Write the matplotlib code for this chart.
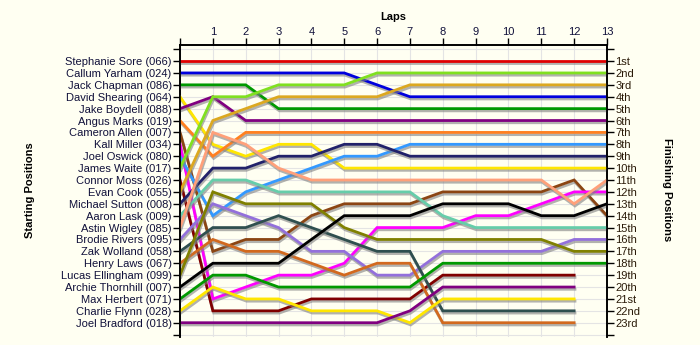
import matplotlib
matplotlib.use('Agg')
import matplotlib.pyplot as plt
import matplotlib.patheffects as pe

plt.rcParams['font.family'] = ['Liberation Sans', 'DejaVu Sans']

laps = list(range(14))

drivers = ['Stephanie Sore (066)', 'Callum Yarham (024)', 'Jack Chapman (086)',
           'David Shearing (064)', 'Jake Boydell (088)', 'Angus Marks (019)',
           'Cameron Allen (007)', 'Kall Miller (034)', 'Joel Oswick (080)',
           'James Waite (017)', 'Connor Moss (026)', 'Evan Cook (055)',
           'Michael Sutton (008)', 'Aaron Lask (009)', 'Astin Wigley (085)',
           'Brodie Rivers (095)', 'Zak Wolland (058)', 'Henry Laws (067)',
           'Lucas Ellingham (099)', 'Archie Thornhill (007)', 'Max Herbert (071)',
           'Charlie Flynn (028)', 'Joel Bradford (018)']

finish_labels = ['1st', '2nd', '3rd', '4th', '5th', '6th', '7th', '8th', '9th', '10th',
                 '11th', '12th', '13th', '14th', '15th', '16th', '17th', '18th', '19th',
                 '20th', '21st', '22nd', '23rd']

# position after each lap (lap 0 = grid), one list per line, same order as colours
positions = [
    [1, 1, 1, 1, 1, 1, 1, 1, 1, 1, 1, 1, 1, 1],
    [2, 2, 2, 2, 2, 2, 3, 4, 4, 4, 4, 4, 4, 4],
    [3, 3, 3, 5, 5, 5, 5, 5, 5, 5, 5, 5, 5, 5],
    [4, 8, 9, 8, 8, 10, 10, 10, 10, 10, 10, 10, 10, 10],
    [5, 4, 6, 6, 6, 6, 6, 6, 6, 6, 6, 6, 6, 6],
    [6, 9, 7, 7, 7, 7, 7, 7, 7, 7, 7, 7, 7, 7],
    [7, 17, 16, 16, 14, 13, 13, 13, 12, 12, 12, 12, 11, 14],
    [8, 21, 20, 19, 19, 18, 15, 15, 15, 14, 14, 13, 12, 12],
    [9, 14, 12, 11, 10, 9, 9, 8, 8, 8, 8, 8, 8, 8],
    [10, 4, 4, 3, 3, 3, 2, 2, 2, 2, 2, 2, 2, 2],
    [11, 22, 22, 22, 21, 21, 21, 21, 19, 19, 19, 19, 19],
    [12, 6, 5, 4, 4, 4, 4, 3, 3, 3, 3, 3, 3, 3],
    [13, 10, 10, 9, 9, 8, 8, 9, 9, 9, 9, 9, 9, 9],
    [14, 11, 11, 12, 12, 12, 12, 12, 14, 15, 15, 15, 15, 15],
    [15, 7, 8, 10, 11, 11, 11, 11, 11, 11, 11, 11, 13, 11],
    [16, 13, 14, 15, 17, 17, 19, 19, 17, 17, 17, 17, 16, 16],
    [17, 15, 15, 14, 15, 16, 17, 17, 22, 22, 22, 22, 22],
    [18, 16, 17, 17, 18, 19, 18, 18, 23, 23, 23, 23, 23],
    [19, 12, 13, 13, 13, 15, 16, 16, 16, 16, 16, 16, 17, 17],
    [20, 18, 18, 18, 16, 14, 14, 14, 13, 13, 13, 14, 14, 13],
    [21, 19, 19, 20, 20, 20, 20, 20, 18, 18, 18, 18, 18, 18],
    [22, 20, 21, 21, 22, 22, 22, 23, 21, 21, 21, 21, 21],
    [23, 23, 23, 23, 23, 23, 23, 22, 20, 20, 20, 20, 20],
]

colors = ['#e00000', '#0000dd', '#009900', '#ffe600', '#800080', '#ff8020',
          '#8b4513', '#ff00ff', '#3399ff', '#80e020', '#800000', '#dca820',
          '#22226a', '#66cdaa', '#ffa07a', '#9370db', '#2f4f4f', '#d2691e',
          '#808000', '#000000', '#009900', '#ffe600', '#800080']

bg = '#fffff2'
fig = plt.figure(figsize=(7, 3.45), dpi=100, facecolor=bg)
ax = fig.add_axes([180/700, 1 - 337/345, 427/700, 292/345])
ax.set_facecolor(bg)

shadow = [pe.SimpleLineShadow(offset=(0.6, -1.6), shadow_color='#808080', alpha=0.6), pe.Normal()]
for pos, c in zip(positions, colors):
    ax.plot(laps[:len(pos)], pos, color=c, lw=2, solid_joinstyle='miter',
            path_effects=shadow, zorder=3)

ax.set_xlim(0, 13)
ax.set_ylim(24.2, -0.35)

ax.xaxis.tick_top()
ax.set_xticks(laps)
ax.set_xticklabels([''] + [str(l) for l in laps[1:]])
ax.set_yticks(range(25))
ax.set_yticklabels([''] + drivers + [''])

ax2 = ax.twinx()
ax2.set_ylim(ax.get_ylim())
ax2.set_yticks(range(25))
ax2.set_yticklabels([''] + finish_labels + [''])

for a in (ax, ax2):
    a.tick_params(length=5, width=1, pad=1, labelsize=8, colors='black')
    a.spines['bottom'].set_visible(False)
    for s in ('top', 'left', 'right'):
        a.spines[s].set_linewidth(1.2)
for t in ax.get_yticklabels() + ax.get_xticklabels():
    t.set_color('#10103a')
for t in ax2.get_yticklabels():
    t.set_color('#2a1a08')

ax.grid(True, color='#e4e4e4', lw=0.8, zorder=0)
ax.set_axisbelow(True)

fig.text(393/700, 1 - 17/345, 'Laps', ha='center', va='center', fontsize=8, fontweight='bold')
fig.text(30/700, 1 - 190/345, 'Starting Positions', ha='center', va='center',
         rotation=90, fontsize=8, fontweight='bold')
fig.text(667/700, 1 - 190/345, 'Finishing Positions', ha='center', va='center',
         rotation=-90, fontsize=8, fontweight='bold')

fig.savefig('out.png', dpi=100, facecolor=bg)
